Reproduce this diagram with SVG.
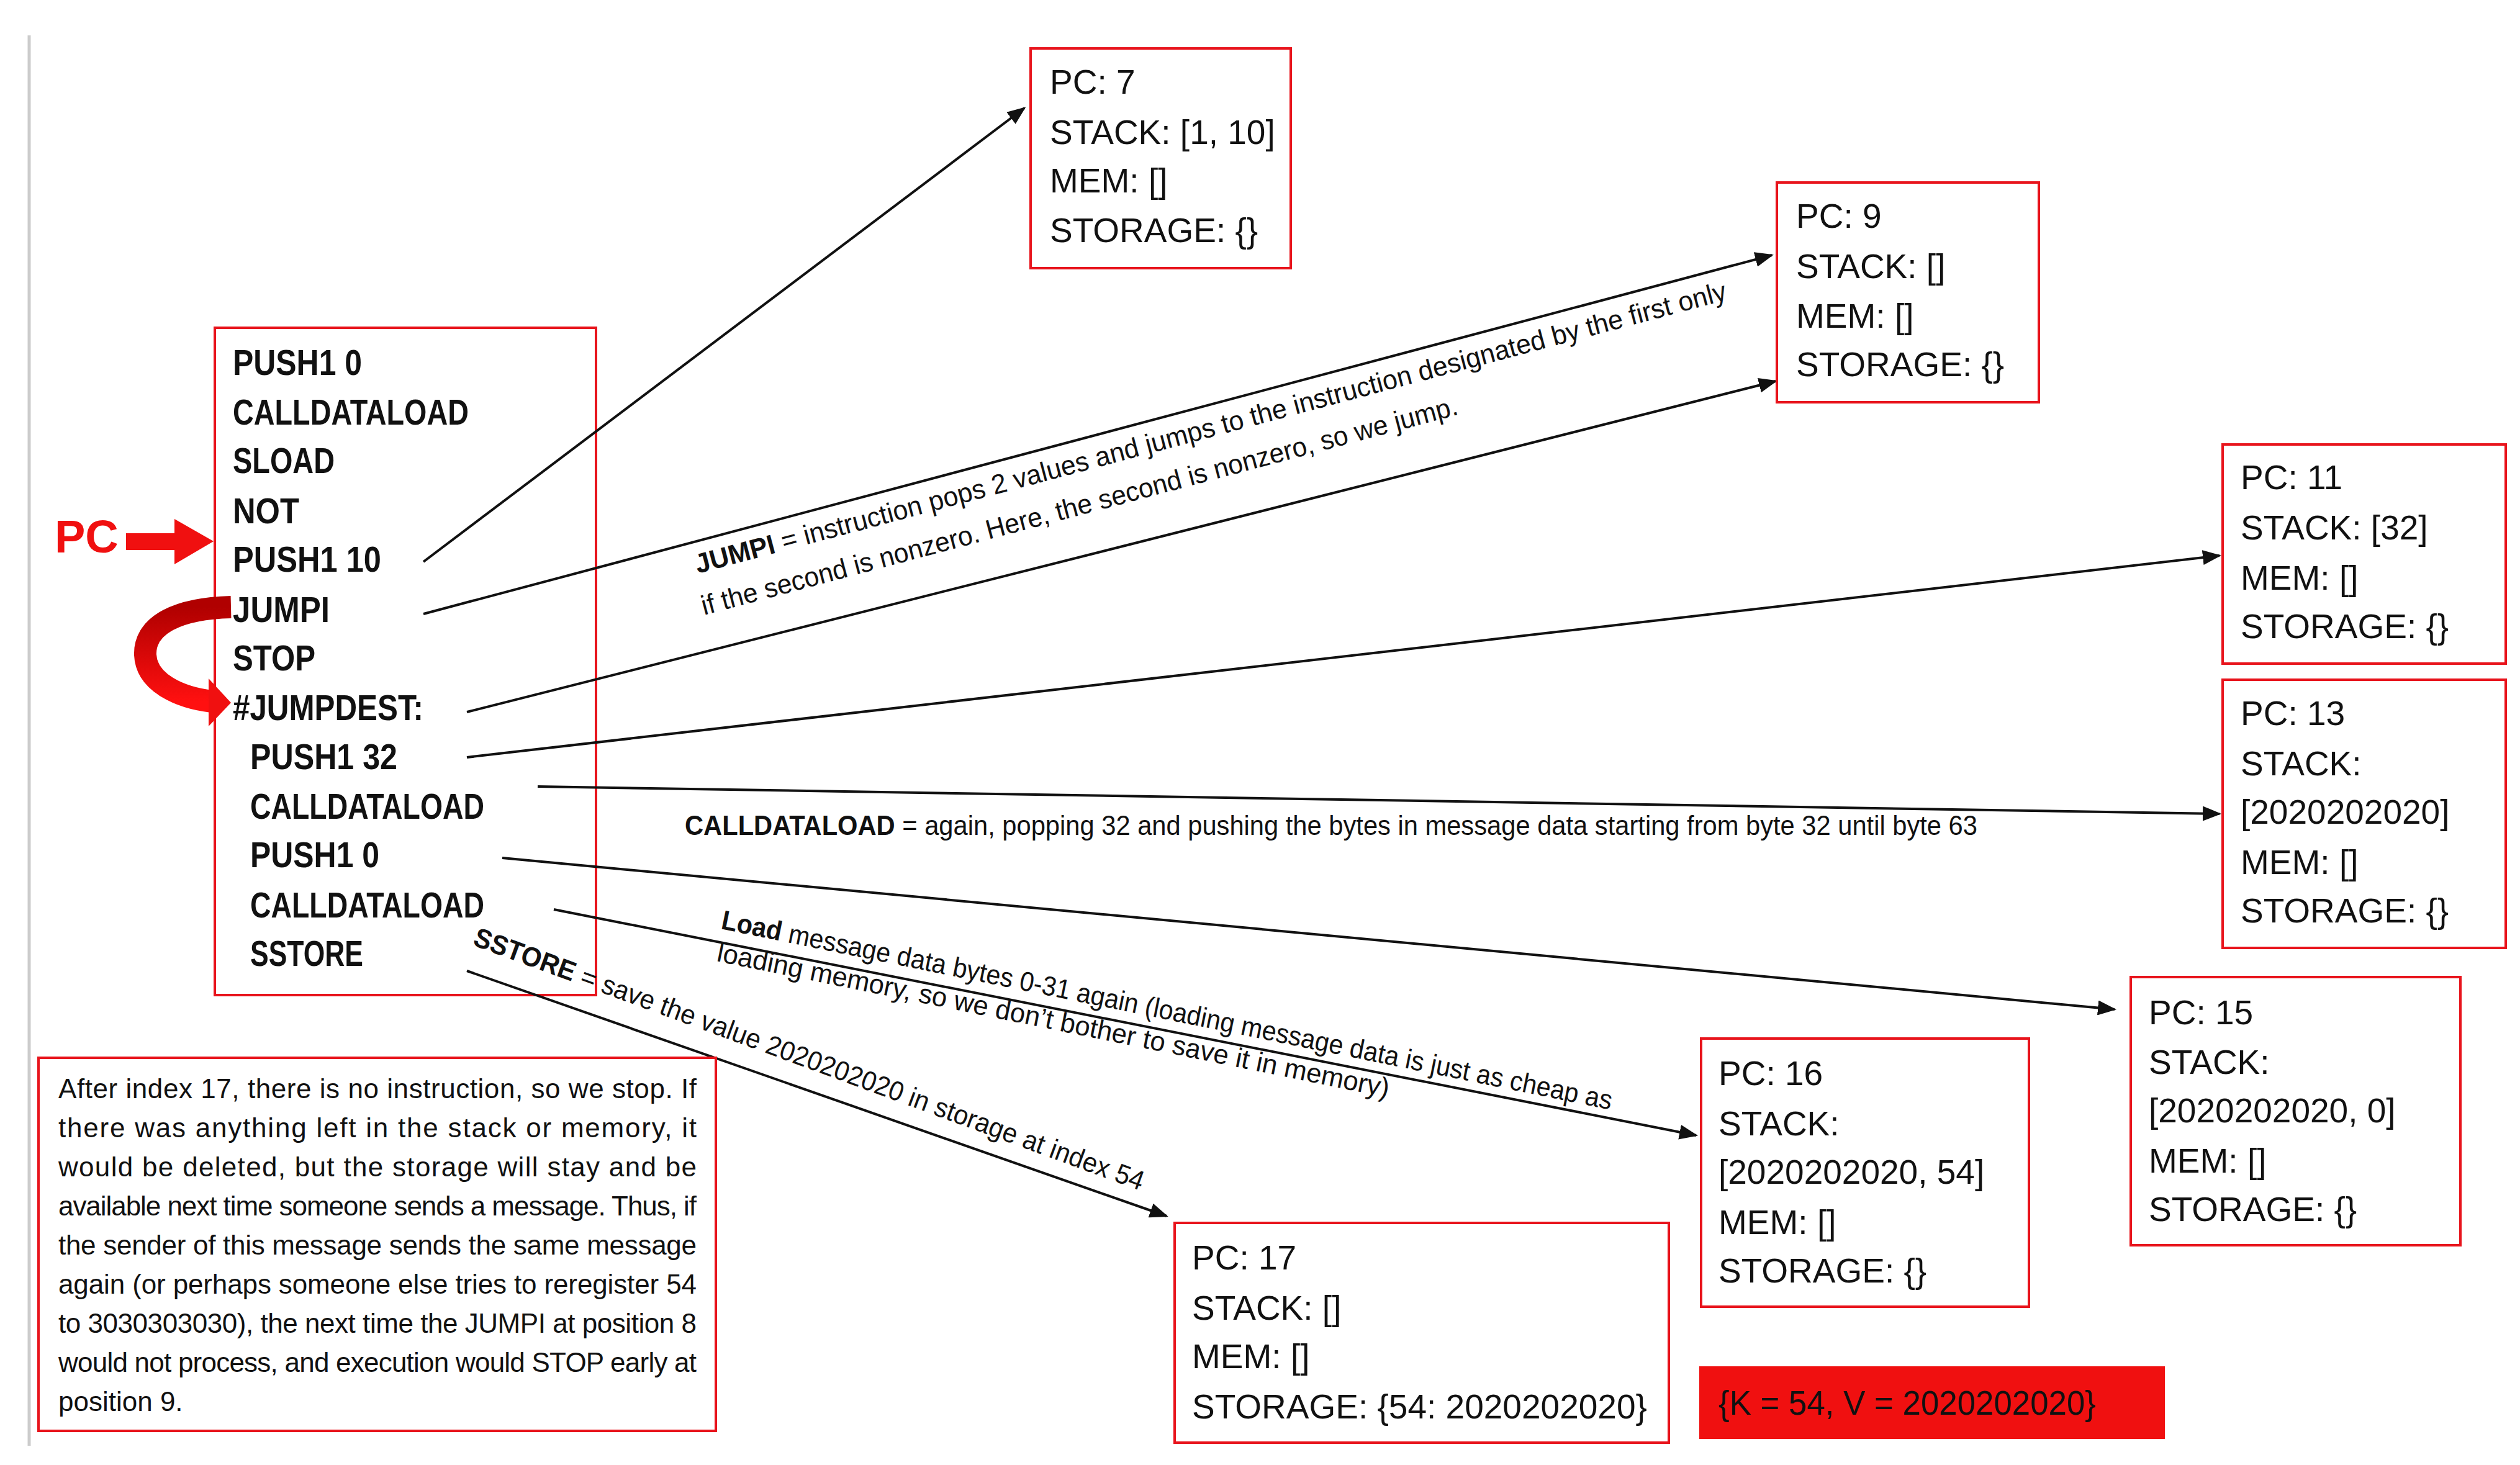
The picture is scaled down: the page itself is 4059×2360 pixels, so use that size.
<svg xmlns="http://www.w3.org/2000/svg" width="4059" height="2360" viewBox="0 0 4059 2360">
<defs>
<style>
.box{fill:#fff;stroke:#e8141c;stroke-width:4}
.bt{font-family:"Liberation Sans",Arial,sans-serif;font-size:55px;fill:#111}
.code{font-family:"Liberation Sans",Arial,sans-serif;font-size:58px;font-weight:bold;fill:#111}
.lab{font-family:"Liberation Sans",Arial,sans-serif;font-size:44px;fill:#111}
.note{font-family:"Liberation Sans",Arial,sans-serif;font-size:44px;fill:#111}
.con{stroke:#111;stroke-width:4;fill:none;marker-end:url(#ah)}
</style>
<marker id="ah" viewBox="0 0 10 8" refX="9" refY="4" markerWidth="30" markerHeight="24" orient="auto" markerUnits="userSpaceOnUse">
<path d="M0,0 L10,4 L0,8 z" fill="#111"/>
</marker>
<linearGradient id="cg" x1="0" y1="0" x2="0" y2="1"><stop offset="0" stop-color="#b00000"/><stop offset="1" stop-color="#ff1010"/></linearGradient>
</defs>
<rect width="4059" height="2360" fill="#fff"/>
<line x1="47" y1="57" x2="47" y2="2329" stroke="#ccc" stroke-width="5"/>

<g id="code">
<rect class="box" x="346" y="528" width="614" height="1075"/>
<text class="code" x="375" y="604" textLength="208" lengthAdjust="spacingAndGlyphs">PUSH1 0</text>
<text class="code" x="375" y="684" textLength="380" lengthAdjust="spacingAndGlyphs">CALLDATALOAD</text>
<text class="code" x="375" y="762" textLength="164" lengthAdjust="spacingAndGlyphs">SLOAD</text>
<text class="code" x="375" y="843" textLength="107" lengthAdjust="spacingAndGlyphs">NOT</text>
<text class="code" x="375" y="921" textLength="239" lengthAdjust="spacingAndGlyphs">PUSH1 10</text>
<text class="code" x="375" y="1002" textLength="156" lengthAdjust="spacingAndGlyphs">JUMPI</text>
<text class="code" x="375" y="1080" textLength="133" lengthAdjust="spacingAndGlyphs">STOP</text>
<text class="code" x="375" y="1160" textLength="307" lengthAdjust="spacingAndGlyphs">#JUMPDEST:</text>
<text class="code" x="403" y="1239" textLength="237" lengthAdjust="spacingAndGlyphs">PUSH1 32</text>
<text class="code" x="403" y="1319" textLength="377" lengthAdjust="spacingAndGlyphs">CALLDATALOAD</text>
<text class="code" x="403" y="1397" textLength="208" lengthAdjust="spacingAndGlyphs">PUSH1 0</text>
<text class="code" x="403" y="1478" textLength="377" lengthAdjust="spacingAndGlyphs">CALLDATALOAD</text>
<text class="code" x="403" y="1556" textLength="182" lengthAdjust="spacingAndGlyphs">SSTORE</text>
</g>

<g id="pc">
<text x="88" y="890" font-family="Liberation Sans,Arial,sans-serif" font-size="74" font-weight="bold" fill="#f01010">PC</text>
<polygon points="203,859 281,859 281,836 344,872 281,909 281,886 203,886" fill="#f01010"/>
<path d="M372,978 C290,980 232,1005 234,1055 C236,1100 290,1124 342,1130" stroke="url(#cg)" stroke-width="36" fill="none"/>
<polygon points="336,1093 372,1132 336,1170" fill="#f01010"/>
</g>

<g id="connectors">
<line class="con" x1="682" y1="905" x2="1650" y2="174"/>
<line class="con" x1="682" y1="989" x2="2854" y2="411"/>
<line class="con" x1="752" y1="1147" x2="2860" y2="614"/>
<line class="con" x1="752" y1="1220" x2="3575" y2="895"/>
<line class="con" x1="866" y1="1267" x2="3575" y2="1311"/>
<line class="con" x1="809" y1="1382" x2="3406" y2="1626"/>
<line class="con" x1="892" y1="1465" x2="2732" y2="1829"/>
<line class="con" x1="752" y1="1564" x2="1879" y2="1959"/>
<g transform="translate(1124,924) rotate(-14.9)">
<text class="lab" x="0" y="0" textLength="1717" lengthAdjust="spacingAndGlyphs"><tspan font-weight="bold">JUMPI</tspan> = instruction pops 2 values and jumps to the instruction designated by the first only</text>
</g>
<g transform="translate(1134,991) rotate(-14.9)">
<text class="lab" x="0" y="0" textLength="1259" lengthAdjust="spacingAndGlyphs">if the second is nonzero. Here, the second is nonzero, so we jump.</text>
</g>
<text class="lab" x="1103" y="1345" textLength="2082" lengthAdjust="spacingAndGlyphs"><tspan font-weight="bold">CALLDATALOAD</tspan> = again, popping 32 and pushing the bytes in message data starting from byte 32 until byte 63</text>
<g transform="translate(1160,1496) rotate(11.5)">
<text class="lab" x="0" y="0" textLength="1463" lengthAdjust="spacingAndGlyphs"><tspan font-weight="bold">Load</tspan> message data bytes 0-31 again (loading message data is just as cheap as</text>
</g>
<g transform="translate(1153,1548) rotate(11.5)">
<text class="lab" x="0" y="0" textLength="1104" lengthAdjust="spacingAndGlyphs">loading memory, so we don’t bother to save it in memory)</text>
</g>
<g transform="translate(760,1522) rotate(20.2)">
<text class="lab" x="0" y="0" textLength="1147" lengthAdjust="spacingAndGlyphs"><tspan font-weight="bold">SSTORE</tspan> = save the value 2020202020 in storage at index 54</text>
</g>
</g>

<g id="pc7">
<rect class="box" x="1660" y="78" width="419" height="354"/>
<text class="bt" x="1691" y="151">PC: 7</text>
<text class="bt" x="1691" y="232">STACK: [1, 10]</text>
<text class="bt" x="1691" y="310">MEM: []</text>
<text class="bt" x="1691" y="390">STORAGE: {}</text>
</g>
<g id="pc9">
<rect class="box" x="2862" y="294" width="422" height="354"/>
<text class="bt" x="2893" y="367">PC: 9</text>
<text class="bt" x="2893" y="448">STACK: []</text>
<text class="bt" x="2893" y="528">MEM: []</text>
<text class="bt" x="2893" y="606">STORAGE: {}</text>
</g>
<g id="pc11">
<rect class="box" x="3580" y="716" width="456" height="353"/>
<text class="bt" x="3609" y="788">PC: 11</text>
<text class="bt" x="3609" y="869">STACK: [32]</text>
<text class="bt" x="3609" y="950">MEM: []</text>
<text class="bt" x="3609" y="1028">STORAGE: {}</text>
</g>
<g id="pc13">
<rect class="box" x="3580" y="1095" width="456" height="432"/>
<text class="bt" x="3609" y="1168">PC: 13</text>
<text class="bt" x="3609" y="1249">STACK:</text>
<text class="bt" x="3609" y="1327">[2020202020]</text>
<text class="bt" x="3609" y="1408">MEM: []</text>
<text class="bt" x="3609" y="1486">STORAGE: {}</text>
</g>
<g id="pc15">
<rect class="box" x="3432" y="1574" width="531" height="432"/>
<text class="bt" x="3461" y="1650">PC: 15</text>
<text class="bt" x="3461" y="1730">STACK:</text>
<text class="bt" x="3461" y="1808">[2020202020, 0]</text>
<text class="bt" x="3461" y="1889">MEM: []</text>
<text class="bt" x="3461" y="1967">STORAGE: {}</text>
</g>
<g id="pc16">
<rect class="box" x="2740" y="1673" width="528" height="432"/>
<text class="bt" x="2768" y="1748">PC: 16</text>
<text class="bt" x="2768" y="1829">STACK:</text>
<text class="bt" x="2768" y="1907">[2020202020, 54]</text>
<text class="bt" x="2768" y="1988">MEM: []</text>
<text class="bt" x="2768" y="2066">STORAGE: {}</text>
</g>
<g id="pc17">
<rect class="box" x="1892" y="1970" width="796" height="354"/>
<text class="bt" x="1920" y="2045">PC: 17</text>
<text class="bt" x="1920" y="2126">STACK: []</text>
<text class="bt" x="1920" y="2204">MEM: []</text>
<text class="bt" x="1920" y="2285">STORAGE: {54: 2020202020}</text>
</g>
<g id="kv">
<rect x="2737" y="2201" width="750" height="117" fill="#f01010"/>
<text class="bt" x="2768" y="2279" fill="#222" textLength="608" lengthAdjust="spacingAndGlyphs">{K = 54, V = 2020202020}</text>
</g>
<g id="note">
<rect class="box" x="62" y="1704" width="1091" height="601"/>
<text class="note" x="94" y="1769" textLength="1028" lengthAdjust="spacing">After index 17, there is no instruction, so we stop. If</text>
<text class="note" x="94" y="1832" textLength="1028" lengthAdjust="spacing">there was anything left in the stack or memory, it</text>
<text class="note" x="94" y="1895" textLength="1028" lengthAdjust="spacing">would be deleted, but the storage will stay and be</text>
<text class="note" x="94" y="1958" textLength="1028" lengthAdjust="spacing">available next time someone sends a message. Thus, if</text>
<text class="note" x="94" y="2021" textLength="1028" lengthAdjust="spacing">the sender of this message sends the same message</text>
<text class="note" x="94" y="2084" textLength="1028" lengthAdjust="spacing">again (or perhaps someone else tries to reregister 54</text>
<text class="note" x="94" y="2147" textLength="1028" lengthAdjust="spacing">to 3030303030), the next time the JUMPI at position 8</text>
<text class="note" x="94" y="2210" textLength="1028" lengthAdjust="spacing">would not process, and execution would STOP early at</text>
<text class="note" x="94" y="2273">position 9.</text>
</g>
</svg>
